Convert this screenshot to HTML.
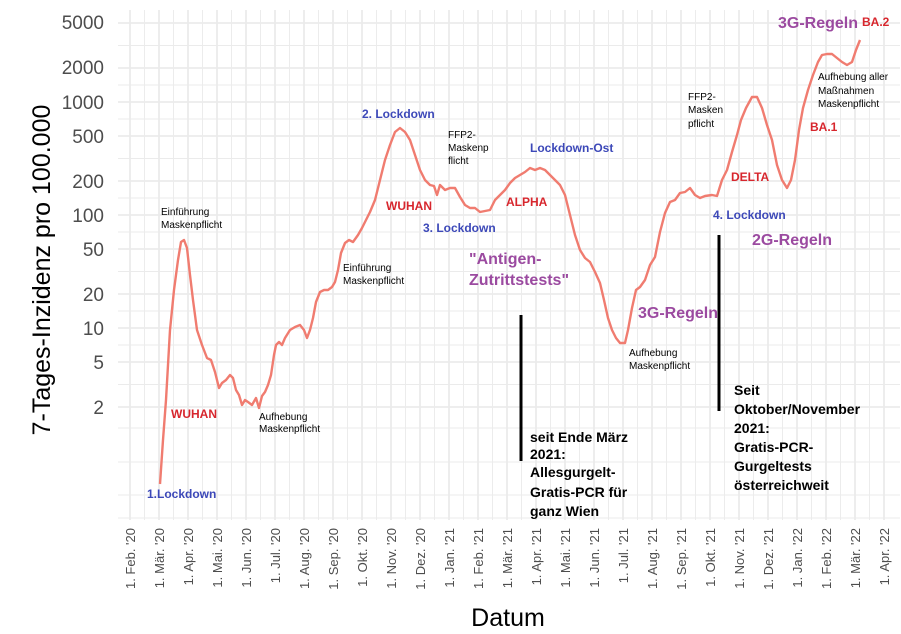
<!DOCTYPE html>
<html><head><meta charset="utf-8"><style>
body{margin:0;background:#fff;}
svg{display:block;font-family:"Liberation Sans",sans-serif;}
.b{font-weight:bold}
</style></head><body>
<svg width="901" height="634" viewBox="0 0 901 634" xmlns="http://www.w3.org/2000/svg">
<rect width="901" height="634" fill="#fff"/>
<path stroke="#ebebeb" stroke-width="0.9" fill="none" d="M118 45.5H900M118 85H900M118 119H900M118 158.5H900M118 198H900M118 232H900M118 271.5H900M118 311H900M118 345H900M118 384.5H900M118 428H900M118 462H900M118 495H900M118 518H900
M144.5 10V520M173.5 10V520M202.5 10V520M231.5 10V520M260.5 10V520M289.5 10V520M318.5 10V520M347.5 10V520M376.5 10V520M405.5 10V520M434.5 10V520M463.5 10V520M492.5 10V520M521.5 10V520M550.5 10V520M579.5 10V520M608.5 10V520M637.5 10V520M666.5 10V520M695.5 10V520M724.5 10V520M753.5 10V520M782.5 10V520M811.5 10V520M840.5 10V520M869.5 10V520"/>
<path stroke="#ebebeb" stroke-width="1.8" fill="none" d="M118 23H900M118 68H900M118 102H900M118 136H900M118 181H900M118 215H900M118 249H900M118 294H900M118 328H900M118 362H900M118 407H900
M130 10V520M159 10V520M188 10V520M217 10V520M246 10V520M275 10V520M304 10V520M333 10V520M362 10V520M391 10V520M420 10V520M449 10V520M478 10V520M507 10V520M536 10V520M565 10V520M594 10V520M623 10V520M652 10V520M681 10V520M710 10V520M739 10V520M768 10V520M797 10V520M826 10V520M855 10V520M884 10V520"/>
<polyline fill="none" stroke="#F07C70" stroke-width="2.4" stroke-linejoin="round" points="160,484 163,440 166,400 170,330 174,290 178,260 181,242 184,240 187,248 190,275 193,300 197,330 202,345 207,358 211,360 215,372 219,388 222,383 226,380 230,375 233,378 236,390 239,395 242,405 245,400 248,402 252,405 256,398 259,408 262,396 265,392 268,385 271,375 274,355 276,345 279,342 282,345 285,338 290,330 295,327 300,325 304,330 307,338 310,330 313,318 316,302 320,292 324,290 328,290 332,287 335,282 338,270 341,253 345,243 349,240 353,242 358,235 362,228 366,220 370,212 375,200 380,180 385,160 390,145 395,132 400,128 405,132 410,140 415,155 420,170 425,180 430,185 434,186 437,195 440,185 445,190 450,188 455,188 460,197 465,205 470,208 475,208 480,212 485,211 490,210 495,200 500,195 505,190 510,183 515,178 520,175 525,172 530,168 535,170 540,168 545,170 550,175 555,180 560,185 565,195 570,215 575,235 580,250 585,258 590,262 595,272 600,283 604,300 608,318 612,330 616,338 620,343 625,343 628,330 632,308 636,290 640,287 645,280 650,265 655,257 660,232 665,213 670,202 675,200 680,193 685,192 690,188 695,195 700,198 705,196 712,195 717,196 722,180 727,170 732,152 737,135 741,120 746,108 752,97 757,97 762,108 767,125 772,140 777,165 782,180 787,188 791,180 795,160 799,130 803,108 808,90 813,75 818,62 822,55 827,54 832,54 837,58 842,62 847,65 852,62 856,50 860,40"/>
<line x1="521" y1="315" x2="521" y2="461" stroke="#000" stroke-width="3"/>
<line x1="719" y1="235" x2="719" y2="411" stroke="#000" stroke-width="3"/>
<g font-size="19" fill="#4d4d4d" text-anchor="end">
<text x="104" y="29">5000</text><text x="104" y="74">2000</text><text x="104" y="109">1000</text><text x="104" y="143">500</text><text x="104" y="188">200</text><text x="104" y="222">100</text><text x="104" y="256">50</text><text x="104" y="301">20</text><text x="104" y="335">10</text><text x="104" y="369">5</text><text x="104" y="414">2</text>
</g>
<g font-size="13" fill="#4d4d4d" text-anchor="end">
<text transform="translate(135,528) rotate(-90)">1. Feb. '20</text>
<text transform="translate(164,528) rotate(-90)">1. Mär. '20</text>
<text transform="translate(193,528) rotate(-90)">1. Apr. '20</text>
<text transform="translate(222,528) rotate(-90)">1. Mai. '20</text>
<text transform="translate(251,528) rotate(-90)">1. Jun. '20</text>
<text transform="translate(280,528) rotate(-90)">1. Jul. '20</text>
<text transform="translate(309,528) rotate(-90)">1. Aug. '20</text>
<text transform="translate(338,528) rotate(-90)">1. Sep. '20</text>
<text transform="translate(367,528) rotate(-90)">1. Okt. '20</text>
<text transform="translate(396,528) rotate(-90)">1. Nov. '20</text>
<text transform="translate(425,528) rotate(-90)">1. Dez. '20</text>
<text transform="translate(454,528) rotate(-90)">1. Jan. '21</text>
<text transform="translate(483,528) rotate(-90)">1. Feb. '21</text>
<text transform="translate(512,528) rotate(-90)">1. Mär. '21</text>
<text transform="translate(541,528) rotate(-90)">1. Apr. '21</text>
<text transform="translate(570,528) rotate(-90)">1. Mai. '21</text>
<text transform="translate(599,528) rotate(-90)">1. Jun. '21</text>
<text transform="translate(628,528) rotate(-90)">1. Jul. '21</text>
<text transform="translate(657,528) rotate(-90)">1. Aug. '21</text>
<text transform="translate(686,528) rotate(-90)">1. Sep. '21</text>
<text transform="translate(715,528) rotate(-90)">1. Okt. '21</text>
<text transform="translate(744,528) rotate(-90)">1. Nov. '21</text>
<text transform="translate(773,528) rotate(-90)">1. Dez. '21</text>
<text transform="translate(802,528) rotate(-90)">1. Jan. '22</text>
<text transform="translate(831,528) rotate(-90)">1. Feb. '22</text>
<text transform="translate(860,528) rotate(-90)">1. Mär. '22</text>
<text transform="translate(889,528) rotate(-90)">1. Apr. '22</text>
</g>
<text transform="translate(50,270) rotate(-90)" font-size="25" text-anchor="middle" fill="#000">7-Tages-Inzidenz pro 100.000</text>
<text x="508" y="626" font-size="25" text-anchor="middle" fill="#000">Datum</text>
<g font-size="10" fill="#000">
<text x="161" y="215">Einführung</text><text x="161" y="228">Maskenpflicht</text>
<text x="343" y="271">Einführung</text><text x="343" y="284">Maskenpflicht</text>
<text x="259" y="420">Aufhebung</text><text x="259" y="432">Maskenpflicht</text>
<text x="448" y="138">FFP2-</text><text x="448" y="151">Maskenp</text><text x="448" y="164">flicht</text>
<text x="629" y="356">Aufhebung</text><text x="629" y="369">Maskenpflicht</text>
<text x="688" y="100">FFP2-</text><text x="688" y="113">Masken</text><text x="688" y="127">pflicht</text>
<text x="818" y="80">Aufhebung aller</text><text x="818" y="94">Maßnahmen</text><text x="818" y="107">Maskenpflicht</text>
</g>
<g class="b" font-size="12" fill="#d7262d">
<text x="171" y="418">WUHAN</text><text x="386" y="210">WUHAN</text><text x="506" y="206">ALPHA</text><text x="731" y="181">DELTA</text><text x="810" y="131">BA.1</text><text x="862" y="26">BA.2</text>
</g>
<g class="b" font-size="12" fill="#3c48b8">
<text x="147" y="498">1.Lockdown</text><text x="362" y="118">2. Lockdown</text><text x="423" y="232">3. Lockdown</text><text x="530" y="152">Lockdown-Ost</text><text x="713" y="219">4. Lockdown</text>
</g>
<g class="b" font-size="16" fill="#9b4aa0">
<text x="469" y="264">"Antigen-</text><text x="469" y="285">Zutrittstests"</text>
<text x="638" y="318">3G-Regeln</text><text x="752" y="245">2G-Regeln</text><text x="778" y="28">3G-Regeln</text>
</g>
<g class="b" font-size="14" fill="#000">
<text x="530" y="442">seit Ende März</text><text x="530" y="459">2021:</text><text x="530" y="477">Allesgurgelt-</text><text x="530" y="497">Gratis-PCR für</text><text x="530" y="516">ganz Wien</text>
<text x="734" y="395">Seit</text><text x="734" y="414">Oktober/November</text><text x="734" y="433">2021:</text><text x="734" y="452">Gratis-PCR-</text><text x="734" y="471">Gurgeltests</text><text x="734" y="490">österreichweit</text>
</g>
</svg>
</body></html>
